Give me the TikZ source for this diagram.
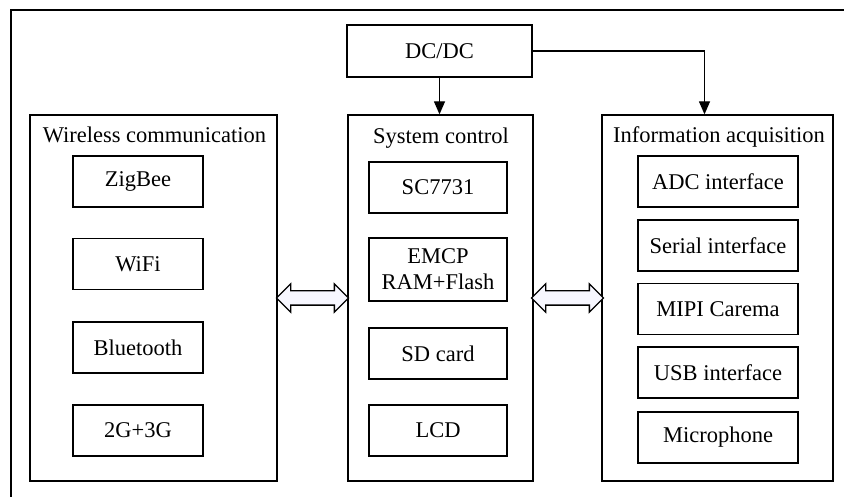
\documentclass[tikz,border=0pt]{standalone}
\usepackage{fontspec}
\setmainfont{Liberation Serif}
\usetikzlibrary{arrows.meta,shapes.arrows,calc}

\begin{document}
\begin{tikzpicture}[x=1pt,y=-1pt]


\tikzset{BoxStyle/.style = {draw, line width=1.3pt, inner sep=0pt, align=center,
                            font=\rmfamily\fontsize{22.5}{26}\selectfont},
         GroupStyle/.style = {BoxStyle, minimum height=366pt},
         TitleStyle/.style = {inner sep=0pt, font=\rmfamily\fontsize{22.5}{26}\selectfont},
         ItemStyle/.style = {BoxStyle, minimum height=51pt},
         ArrowStyle/.style = {line width=1.3pt, -{Triangle[length=13pt,width=11pt]}},
         LinkStyle/.style = {draw, line width=1.3pt, double arrow, inner sep=6.5pt,
                             double arrow head extend=7pt, minimum height=72pt,
                             fill=blue!3}}

\useasboundingbox (0,0) rectangle (844,497);
\draw[line width=1.6pt] (11,497) -- (11,10) -- (844,10);


\node[BoxStyle, minimum width=185pt, minimum height=52pt] (dcdc) at (439.5,51) {DC/DC};

\node[GroupStyle, minimum width=247pt] (wireless) at (153.5,298) {};
\node[GroupStyle, minimum width=185pt] (system) at (440.5,298) {};
\node[GroupStyle, minimum width=231pt] (info) at (717.5,298) {};

\node[TitleStyle] (wirelessTitle) at (154.5,135) {Wireless communication};
\node[TitleStyle] (systemTitle) at (441,138) {System control};
\node[TitleStyle] (infoTitle) at (719,137) {Information acquisition};


\node[ItemStyle, minimum width=130pt] (zigbee) at (138,181.5) {ZigBee};
\node[ItemStyle, minimum width=130pt] (wifi) at (138,264) {WiFi};
\node[ItemStyle, minimum width=130pt] (bluetooth) at (138,347.5) {Bluetooth};
\node[ItemStyle, minimum width=130pt] (mobile) at (138,430.5) {2G+3G};

\node[ItemStyle, minimum width=138pt] (sc) at (438,187.5) {SC7731};
\node[ItemStyle, minimum width=138pt, minimum height=63pt] (emcp) at (438,269.5) {EMCP\\RAM+Flash};
\node[ItemStyle, minimum width=138pt] (sdcard) at (438,353.5) {SD card};
\node[ItemStyle, minimum width=138pt] (lcd) at (438,430.5) {LCD};

\node[ItemStyle, minimum width=160pt] (adc) at (718,181.5) {ADC interface};
\node[ItemStyle, minimum width=160pt] (serial) at (718,245.5) {Serial interface};
\node[ItemStyle, minimum width=160pt] (mipi) at (718,309) {MIPI Carema};
\node[ItemStyle, minimum width=160pt] (usb) at (718,372.5) {USB interface};
\node[ItemStyle, minimum width=160pt] (mic) at (718,437.5) {Microphone};


\draw[ArrowStyle] (dcdc.south) -- (dcdc.south |- system.north);
\draw[ArrowStyle] (dcdc.east) -| ([xshift=-13pt]info.north);

\node[LinkStyle] (leftLink) at ($(wireless.east)!0.5!(system.west)$) {};
\node[LinkStyle] (rightLink) at ($(system.east)!0.5!(info.west)$) {};

\end{tikzpicture}
\end{document}
